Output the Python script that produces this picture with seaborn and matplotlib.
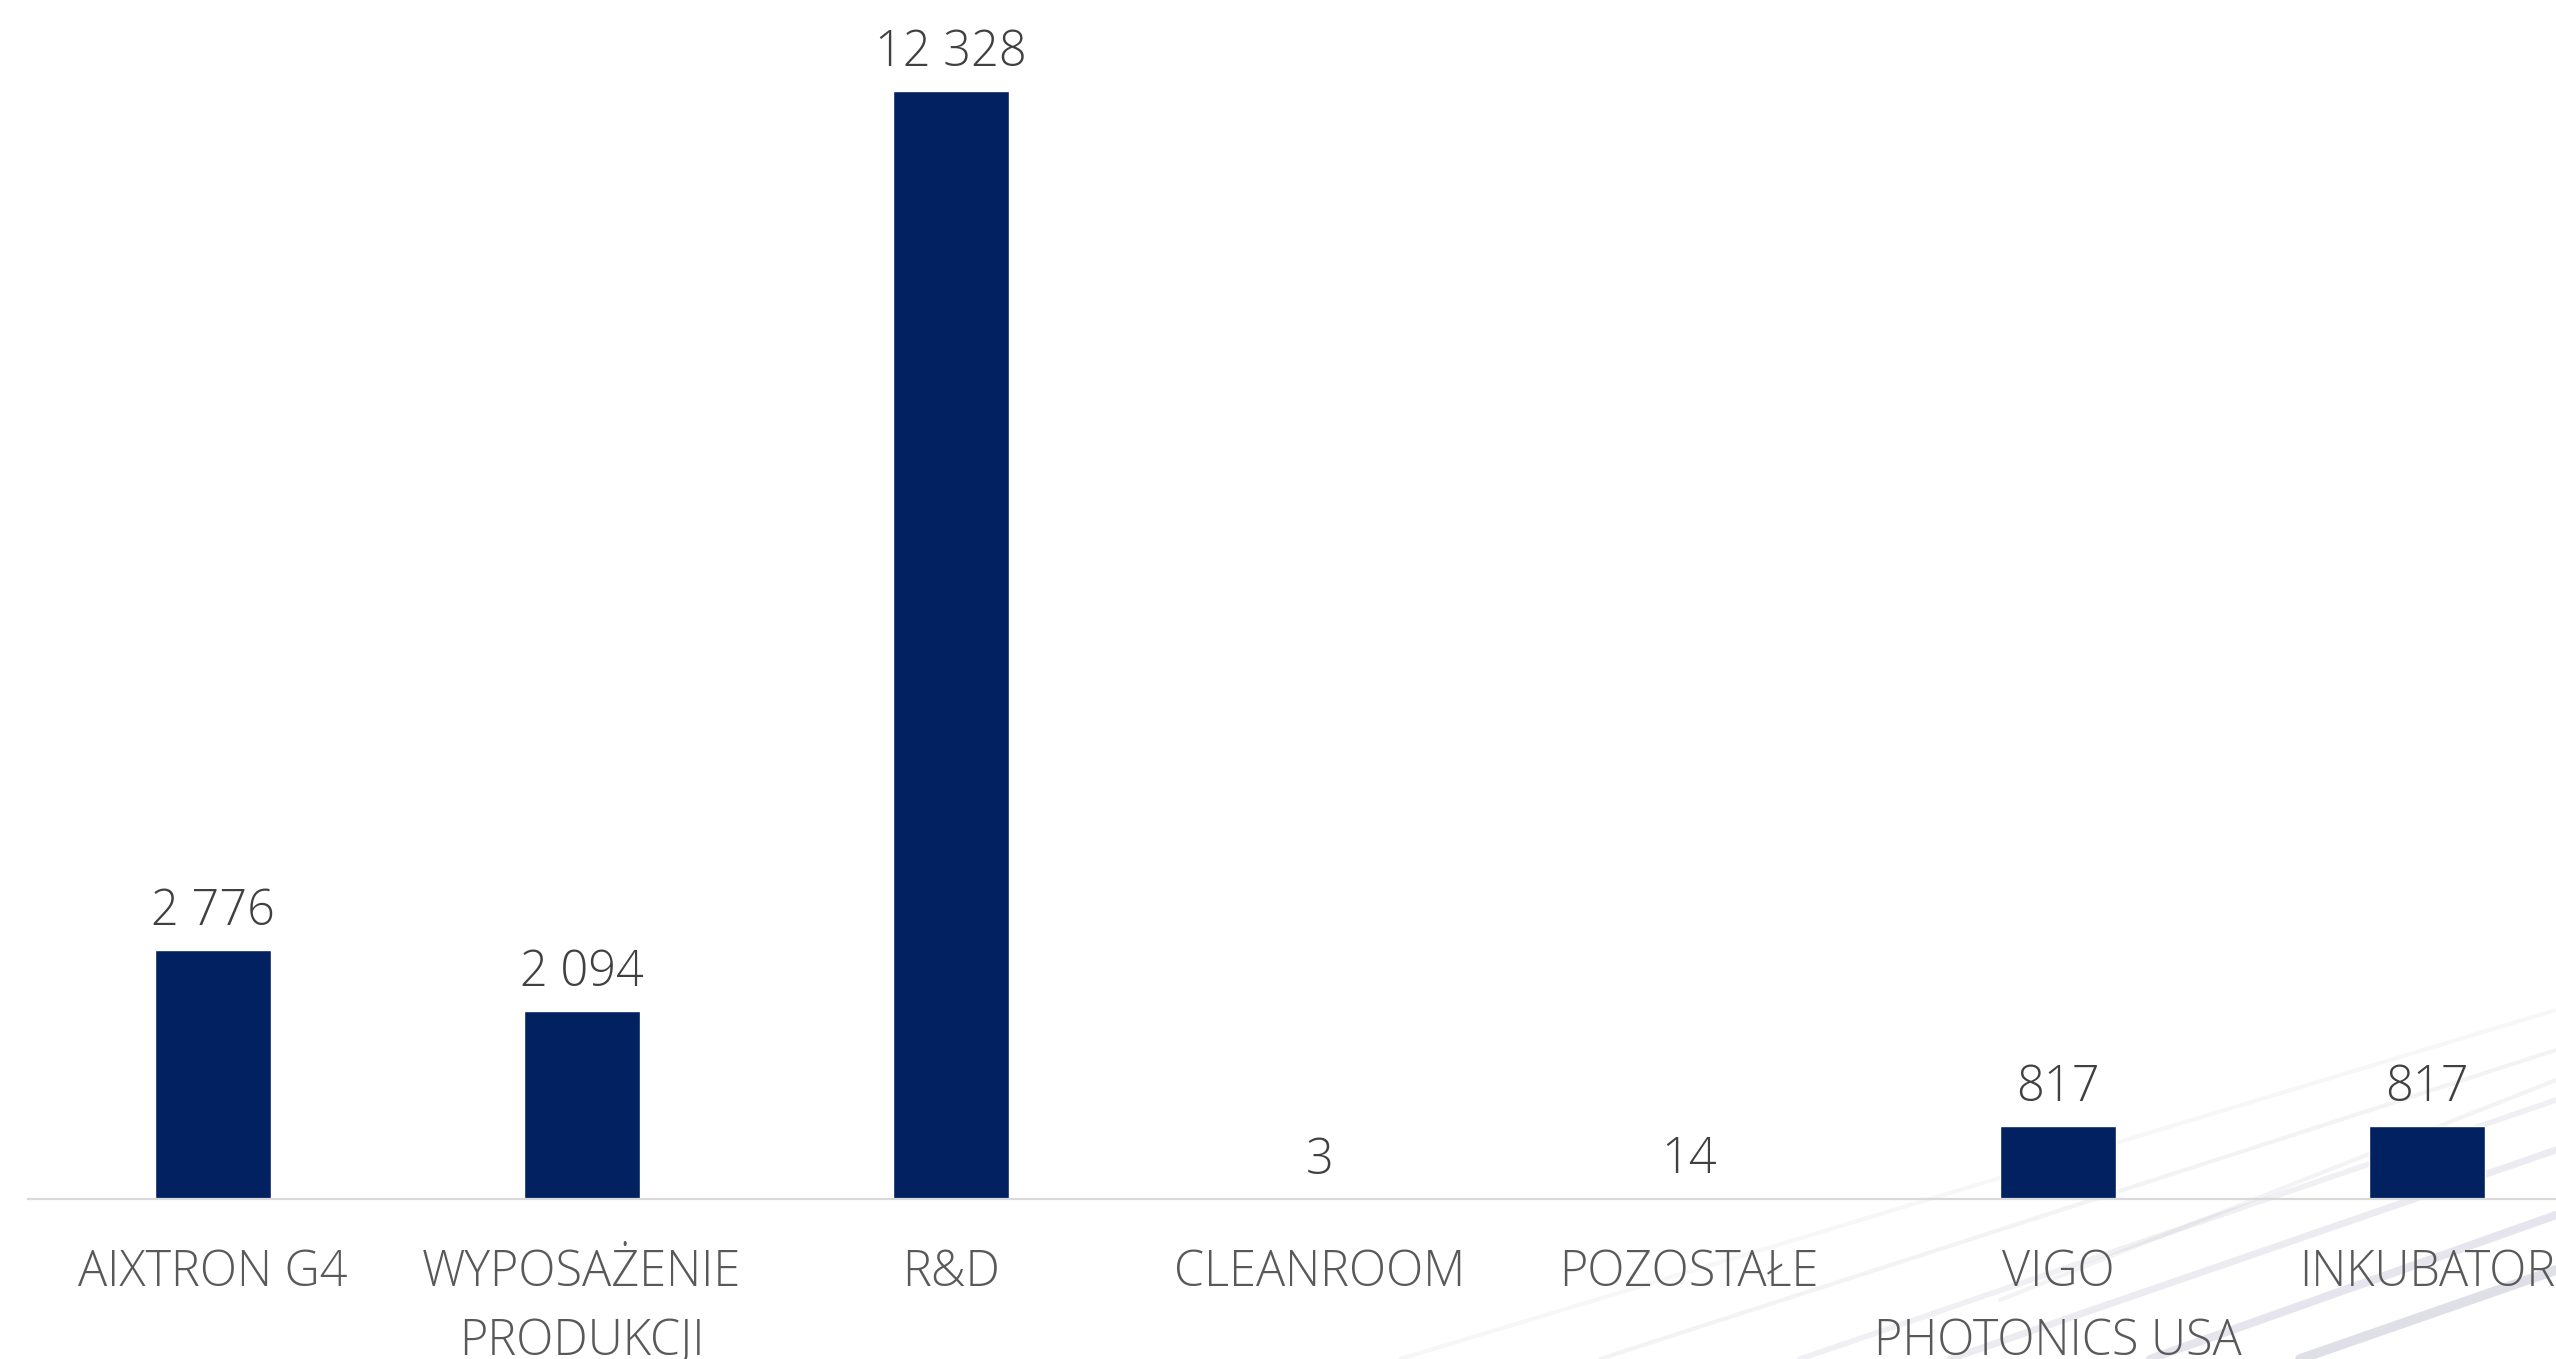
import matplotlib
matplotlib.use("Agg")
import matplotlib.pyplot as plt
import seaborn as sns
import pandas as pd
from matplotlib.lines import Line2D

categories = ["AIXTRON G4", "WYPOSAŻENIE\nPRODUKCJI", "R&D", "CLEANROOM",
              "POZOSTAŁE", "VIGO\nPHOTONICS USA", "INKUBATOR"]
values = [2776, 2094, 12328, 3, 14, 817, 817]
value_labels = ["2 776", "2 094", "12 328", "3", "14", "817", "817"]

sns.set_theme(style="white")
plt.rcParams['font.family'] = ['Open Sans', 'DejaVu Sans']

W, H = 2556, 1359
fig = plt.figure(figsize=(W / 100, H / 100), dpi=100)
fig.patch.set_facecolor("white")

# decorative background streaks (bottom-right corner)
streaks = [
    ((1600, 1359), (2556, 1050), 0.10, 3),
    ((1800, 1359), (2556, 1100), 0.13, 4),
    ((1950, 1359), (2556, 1150), 0.17, 5),
    ((2150, 1359), (2556, 1215), 0.22, 6),
    ((2300, 1359), (2556, 1270), 0.28, 7),
    ((1400, 1359), (2556, 1010), 0.07, 3),
    ((2000, 1300), (2556, 1080), 0.10, 3),
]
for (x0, y0), (x1, y1), a, lw in streaks:
    fig.add_artist(Line2D([x0 / W, x1 / W], [1 - y0 / H, 1 - y1 / H],
                          color="#8f8cad", alpha=a, lw=lw, zorder=0,
                          solid_capstyle="round"))

left = 28.2 / W
width = 7 * 369.1 / W
bottom = (H - 1199) / H
height = (13000 * 1108 / 12328) / H
ax = fig.add_axes([left, bottom, width, height])
ax.set_facecolor("none")

df = pd.DataFrame({"cat": categories, "val": values})
sns.barplot(data=df, x="cat", y="val", color="#022161", saturation=1,
            width=0.314, ax=ax, zorder=3)

ax.set_xlim(-0.5, 6.5)
ax.set_ylim(0, 13000)
ax.set_xlabel("")
ax.set_ylabel("")
ax.set_yticks([])
for s in ["top", "left", "right"]:
    ax.spines[s].set_visible(False)
ax.spines["bottom"].set_color("#d9d9d9")
ax.spines["bottom"].set_linewidth(1.6)
ax.spines["bottom"].set_zorder(4)
ax.tick_params(axis="x", length=0, pad=35, labelsize=35, labelcolor="#595959")
for t in ax.get_xticklabels():
    t.set_fontweight("light")
    t.set_linespacing(1.5)

for i, (v, lab) in enumerate(zip(values, value_labels)):
    ax.annotate(lab, xy=(i, v), xytext=(0, 18), textcoords="offset points",
                ha="center", va="baseline", fontsize=35, color="#404040",
                fontweight="light")

fig.savefig("out.png", dpi=100, facecolor="white")
